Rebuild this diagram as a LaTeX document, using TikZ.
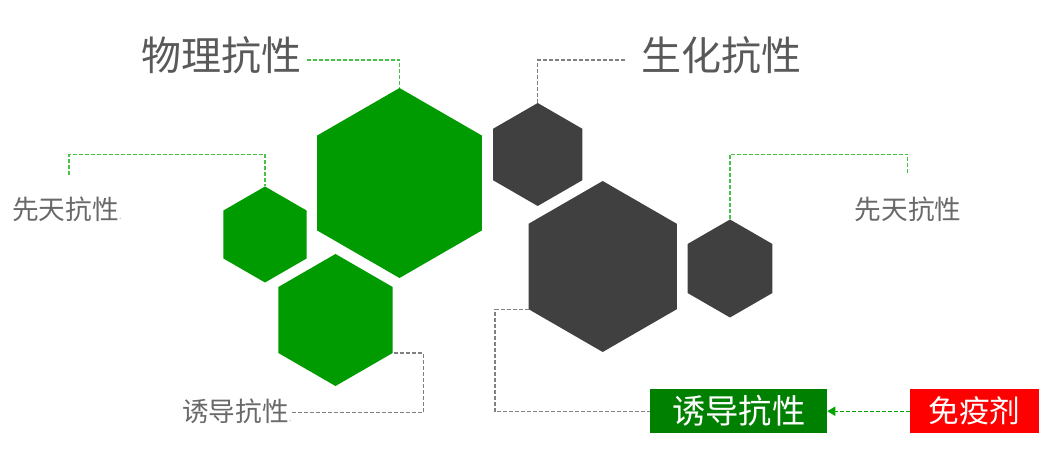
\documentclass[tikz,border=0pt]{standalone}
\usepackage{fontspec}
\newfontfamily\cjk{Noto Sans CJK SC}
\usetikzlibrary{shapes.geometric,arrows.meta,calc}
\definecolor{hexgreen}{RGB}{0,155,0}
\definecolor{hexdark}{RGB}{64,64,64}
\definecolor{boxgreen}{RGB}{0,128,0}
\definecolor{boxred}{RGB}{255,0,0}
\definecolor{lightgreen}{RGB}{70,195,70}
\definecolor{arrowgreen}{RGB}{0,165,0}
\definecolor{dashgray}{RGB}{128,128,128}
\definecolor{txtgray}{RGB}{89,89,89}
\definecolor{smallgray}{RGB}{105,105,105}
\begin{document}
\begin{tikzpicture}[x=0.75pt,y=-0.75pt,
  hexa/.style={regular polygon, regular polygon sides=6, shape border rotate=30,
    inner sep=0pt, outer sep=0pt, draw=none, minimum size=#1},
  greenhex/.style={hexa=#1, fill=hexgreen},
  darkhex/.style={hexa=#1, fill=hexdark},
  title/.style={inner sep=0pt, text=txtgray, font=\cjk\fontsize{30}{30}\selectfont},
  small/.style={inner sep=0pt, text=smallgray, font=\cjk\fontsize{20}{20}\selectfont},
  boxlabel/.style={inner sep=0pt, outer sep=0pt, text=white, minimum height=33.2pt},
  gline/.style={draw=lightgreen, line width=0.8pt, dash pattern=on 3pt off 1.5pt},
  dline/.style={draw=dashgray, line width=0.8pt, dash pattern=on 3pt off 1.5pt},
  aline/.style={draw=arrowgreen, line width=0.8pt, dash pattern=on 3pt off 1.5pt,
    -{Triangle[length=6pt,width=7pt,fill=arrowgreen]}}
]
\useasboundingbox (0,0) rectangle (1054,470);

% hexagons
\node[greenhex=142.5pt] (h1) at (399.5,183) {};
\node[greenhex=72pt]    (h2) at (265,234.5) {};
\node[greenhex=99pt]    (h3) at (335.5,320) {};
\node[darkhex=77.25pt]  (h4) at (537.7,154.5) {};
\node[darkhex=128.25pt] (h5) at (602.7,266.5) {};
\node[darkhex=73.5pt]   (h6) at (730,268.5) {};

% texts
\node[title] (t1) at (221.5,55) {物理抗性};
\node[title] (t2) at (721.5,55) {生化抗性};
\node[small] (t3) at (67,209) {先天抗性\textcolor{lightgray}{\fontsize{8}{8}\selectfont.}};
\node[small] (t4) at (908,209) {先天抗性};
\node[small] (t5) at (237,411) {诱导抗性\textcolor{lightgray}{\fontsize{8}{8}\selectfont.}};

% boxes
\node[boxlabel, fill=boxgreen, minimum width=133pt,
      font=\cjk\fontsize{25}{25}\selectfont] (b1) at (738.7,411.2) {诱导抗性};
\node[boxlabel, fill=boxred, minimum width=96.75pt,
      font=\cjk\fontsize{23}{23}\selectfont] (b2) at (974.5,411.2) {免疫剂};

% connector points
\coordinate (c1) at (307,60);
\coordinate (c2) at (69,175);
\coordinate (k2) at (265,154.7);
\coordinate (c3) at (625,60);
\coordinate (k4) at (907.7,154.3);
\coordinate (c4) at (907.7,173.3);
\coordinate (c5) at (291.7,412.3);
\coordinate (k5) at (423.3,412.3);
\coordinate (k6) at (495,411.2);

% connectors
\draw[gline] (c1) -| (h1.north);
\draw[gline] (c2) |- (k2) -- (h2.north);
\draw[dline] (c3) -| (h4.north);
\draw[gline] (h6.north) |- (k4) -- (c4);
\draw[dline] (c5) -- (k5) |- (h3.330);
\draw[dline] (h5.210) -| (k6) -- (b1.west);
\draw[aline] (b2.west) -- (b1.east);
\end{tikzpicture}
\end{document}
